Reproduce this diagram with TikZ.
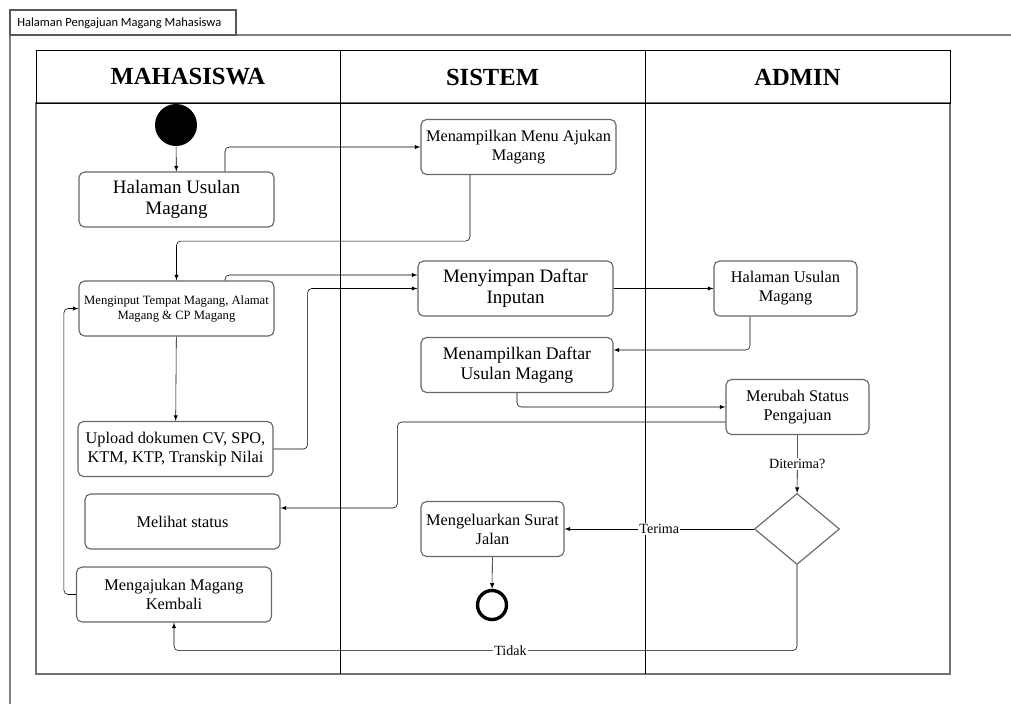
\documentclass[tikz,border=0pt]{standalone}
\usepackage{fontspec}
\setmainfont{Liberation Serif}
\newfontfamily\tabfont{Carlito}
\usetikzlibrary{shapes,arrows}

\begin{document}
\begin{tikzpicture}[x=0.025cm, y=-0.025cm, >=latex,
    box/.style={draw=black!60, rounded corners=4pt, line width=0.8pt, minimum width=4.875cm, minimum height=1.375cm, align=center, inner sep=1pt, font=\fontsize{11.6}{13.5}\selectfont},
    sbox/.style={box, minimum width=3.575cm},
    big/.style={font=\fontsize{13.5}{15}\selectfont},
    head/.style={font=\fontsize{17.5}{20}\selectfont\bfseries},
    lbl/.style={fill=white, inner sep=1pt, font=\fontsize{10}{12}\selectfont},
    line/.style={->, rounded corners=3pt}]

    \useasboundingbox (0,0) rectangle (1011,704);

    % frame
    \draw[black!50, line width=1.4pt] (10,704) -- (10,35) -- (1011,35);
    \draw[black!65, line width=0.8pt] (10,35) rectangle (236,10);
    \node[anchor=west, inner sep=0pt, font=\tabfont\fontsize{8.9}{10}\selectfont] (tab) at (17,23) {Halaman Pengajuan Magang Mahasiswa};

    % lanes
    \draw[black!55, line width=1.2pt] (36,103) rectangle (950,674);
    \draw[line width=0.7pt] (36,50) rectangle (950,103);
    \draw[line width=0.6pt] (340,50) -- (340,674);
    \draw[line width=0.6pt] (645,50) -- (645,674);
    \node[head] (h1) at (188,77) {MAHASISWA};
    \node[head] (h2) at (492.5,77) {SISTEM};
    \node[head] (h3) at (797.5,77) {ADMIN};

    % mahasiswa
    \node[circle, fill=black, minimum size=1.05cm, inner sep=0pt] (n0) at (176,125) {};
    \node[box, big] (m1) at (176.5,199.5) {Halaman Usulan\\Magang};
    \node[box, font=\fontsize{9}{10.7}\selectfont] (m2) at (176.5,308.5) {Menginput Tempat Magang, Alamat\\Magang \& CP Magang};
    \node[box] (m3) at (175.5,449) {Upload dokumen CV, SPO,\\KTM, KTP, Transkip Nilai};
    \node[box] (m4) at (182.5,521.5) {Melihat status};
    \node[box] (m5) at (174,594.5) {Mengajukan Magang\\Kembali};

    % sistem
    \node[box] (s1) at (518.5,147) {Menampilkan Menu Ajukan\\Magang};
    \node[box, big] (s2) at (515.5,288.5) {Menyimpan Daftar\\Inputan};
    \node[box, minimum width=4.8cm, font=\fontsize{12.6}{14.5}\selectfont] (s3) at (517,365) {Menampilkan Daftar\\Usulan Magang};
    \node[sbox] (s4) at (492.5,529) {Mengeluarkan Surat\\Jalan};
    \node[circle, draw, line width=2.4pt, minimum size=0.725cm, inner sep=0pt] (n1) at (492,605) {};

    % admin
    \node[sbox] (a1) at (785.5,288.5) {Halaman Usulan\\Magang};
    \node[sbox] (a2) at (797.5,407) {Merubah Status\\Pengajuan};
    \node[diamond, draw=black!60, line width=0.8pt, minimum width=2.125cm, minimum height=1.775cm, inner sep=0pt] (d1) at (797,529) {};

    \draw [->] (n0) -- (m1);
    \draw [line] ([xshift=1.2125cm]m1.north) |- (s1.west);
    \draw [line] ([xshift=-1.2125cm]s1.south) -- ++(0,66) -| (m2.north);
    \draw [line] ([xshift=1.2125cm]m2.north) |- ([yshift=0.3375cm]s2.west);
    \draw [line] (m3.east) -- ++(34,0) |- (s2.west);
    \draw [->] (m2) -- (m3);
    \draw [->] (s2) -- (a1);
    \draw [line] ([xshift=-0.8875cm]a1.south) |- ([yshift=0.375cm]s3.east);
    \draw [line] (s3.south) |- (a2.west);
    \draw [line] ([yshift=-0.375cm]a2.west) -- ++(-328,0) |- ([yshift=0.3375cm]m4.east);
    \draw [->] (a2) -- node[lbl] {Diterima?} (d1);
    \draw [->] (d1) -- node[lbl] {Terima} (s4);
    \draw [->] (s4) -- (n1);
    \draw [line] (d1.south) -- ++(0,85.5) -| node[lbl, pos=0.23] {Tidak} (m5.south);
    \draw [line] (m5.west) -- ++(-12,0) |- (m2.west);

\end{tikzpicture}
\end{document}
